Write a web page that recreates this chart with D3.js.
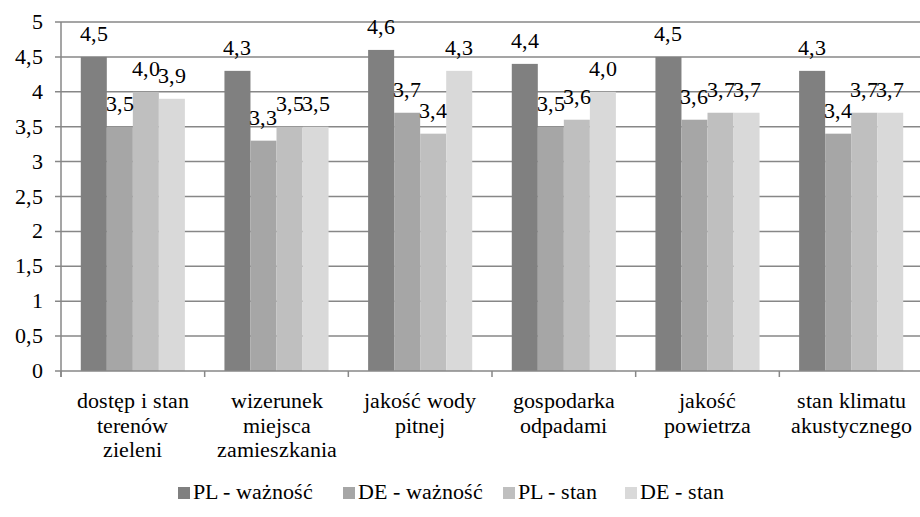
<!DOCTYPE html>
<html><head><meta charset="utf-8">
<script src="https://cdn.jsdelivr.net/npm/d3@7"></script>
<style>
@font-face { font-family: "ChartSerif"; src: local("Liberation Serif"), local("LiberationSerif"), local("LiberationSerif-Regular"), local("Tinos"), local("Nimbus Roman"), local("FreeSerif"); }
</style>
</head><body style="margin:0"><svg id="c" width="920" height="517"></svg>
<script>
const categories = [
  ["dostęp i stan","terenów","zieleni"],
  ["wizerunek","miejsca","zamieszkania"],
  ["jakość wody","pitnej"],
  ["gospodarka","odpadami"],
  ["jakość","powietrza"],
  ["stan klimatu","akustycznego"]
];
const seriesNames = ["PL - ważność","DE - ważność","PL - stan","DE - stan"];
const plWaznosc = [4.5,4.3,4.6,4.4,4.5,4.3];
const deWaznosc = [3.5,3.3,3.7,3.5,3.6,3.4];
const plStan = [4.0,3.5,3.4,3.6,3.7,3.7];
const deStan = [3.9,3.5,4.3,4.0,3.7,3.7];
const yTicks = [0,0.5,1,1.5,2,2.5,3,3.5,4,4.5,5];
const colors = ["#808080","#a6a6a6","#bfbfbf","#d9d9d9"];
const series = [plWaznosc, deWaznosc, plStan, deStan];

const FONT = '"ChartSerif", "Liberation Serif", "Tinos", "Nimbus Roman", "FreeSerif"';
const svg = d3.select("#c");
const pL = 61, pR = 923, pT = 22, pB = 371;
const x = d3.scaleBand().domain(d3.range(categories.length)).range([pL,pR]).padding(0);
const inner = d3.scaleBand().domain(d3.range(series.length)).range([0, x.bandwidth()]).paddingOuter(0.76).paddingInner(0);
const y = d3.scaleLinear().domain([0,5]).range([pB, pT]);
const fmt = v => v.toFixed(1).replace(".", ",");
const tickFmt = v => String(v).replace(".", ",");

function txt(sel, size){
  return sel.style("font-family", FONT).attr("font-size", size);
}

// gridlines
svg.append("g").selectAll("line").data(yTicks.filter(t=>t>0)).join("line")
  .attr("x1", pL-6).attr("x2", 920).attr("y1", d=>y(d)).attr("y2", d=>y(d))
  .attr("stroke","#878787").attr("stroke-width",1.5);

// bars
series.forEach((s,si)=>{
  svg.append("g").selectAll("rect").data(s).join("rect")
    .attr("x",(d,i)=>x(i)+inner(si)).attr("width",inner.bandwidth())
    .attr("y",d=>y(d)).attr("height",d=>y(0)-y(d)).attr("fill",colors[si]);
});

// axes
svg.append("line").attr("x1",pL-6).attr("x2",920).attr("y1",pB).attr("y2",pB).attr("stroke","#878787").attr("stroke-width",1.5);
svg.append("line").attr("x1",pL).attr("x2",pL).attr("y1",pT).attr("y2",pB+6).attr("stroke","#878787").attr("stroke-width",1.5);
svg.append("g").selectAll("line").data(d3.range(categories.length+1)).join("line")
  .attr("x1",i=>pL+i*x.step()).attr("x2",i=>pL+i*x.step())
  .attr("y1",pB).attr("y2",pB+6).attr("stroke","#878787").attr("stroke-width",1.5);

// value labels
series.forEach((s,si)=>{
  txt(svg.selectAll(null).data(s).join("text"), 22)
    .attr("x",(d,i)=>x(i)+inner(si)+inner.bandwidth()/2)
    .attr("y",d=>y(d)-16).attr("text-anchor","middle")
    .text(fmt);
});

txt(svg.selectAll(null).data(yTicks).join("text"), 22)
  .attr("x",43).attr("y",d=>y(d)+7).attr("text-anchor","end").text(tickFmt);

categories.forEach((lines,i)=>{
  txt(svg.selectAll(null).data(lines).join("text"), 22)
    .attr("text-anchor","middle")
    .attr("x", x(i)+x.bandwidth()/2).attr("y",(d,j)=>408+j*24.5).text(d=>d);
});

// legend
const legX = [178,343,503,625];
svg.selectAll(null).data(seriesNames).join("rect")
  .attr("x",(d,i)=>legX[i]).attr("y",487).attr("width",12).attr("height",12).attr("fill",(d,i)=>colors[i]);
txt(svg.selectAll(null).data(seriesNames).join("text"), 22)
  .attr("x",(d,i)=>legX[i]+15).attr("y",499).text(d=>d);
</script></body></html>
